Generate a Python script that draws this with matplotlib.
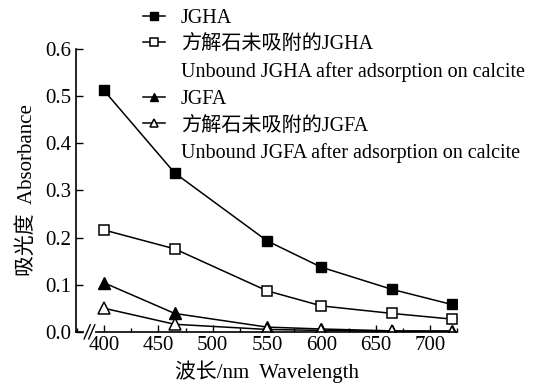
import matplotlib
matplotlib.use("Agg")
import matplotlib.pyplot as plt
from matplotlib.lines import Line2D
from matplotlib.ticker import MultipleLocator, FormatStrFormatter

# wavelengths (nm) and absorbance readings
wavelength = [400, 465, 550, 600, 665, 720]
jgha = [0.512, 0.337, 0.193, 0.137, 0.090, 0.058]
jgha_unbound = [0.216, 0.176, 0.087, 0.055, 0.039, 0.027]
jgfa = [0.104, 0.039, 0.010, 0.006, 0.002, 0.002]
jgfa_unbound = [0.050, 0.016, 0.005, 0.003, 0.001, 0.000]

labels = ["JGHA",
          "方解石未吸附的JGHA",
          "Unbound JGHA after adsorption on calcite",
          "JGFA",
          "方解石未吸附的JGFA",
          "Unbound JGFA after adsorption on calcite"]

fonts = ["Liberation Serif", "Noto Sans CJK SC"]
plt.rcParams["font.family"] = fonts

fig = plt.figure(figsize=(5.45, 3.89), dpi=100)
ax = fig.add_axes([0.139, 0.147, 0.700, 0.727])

lw = 1.1
ms = 7
l1, = ax.plot(wavelength, jgha, "k-", marker="s", ms=ms, lw=lw, mfc="k", mec="k")
l2, = ax.plot(wavelength, jgha_unbound, "k-", marker="s", ms=ms, lw=lw, mfc="white", mec="k", mew=1.1)
l3, = ax.plot(wavelength, jgfa, "k-", marker="^", ms=ms + 1, lw=lw, mfc="k", mec="k")
l4, = ax.plot(wavelength, jgfa_unbound, "k-", marker="^", ms=ms + 1, lw=lw, mfc="white", mec="k", mew=1.1)

ax.set_xlim(374, 725)
ax.set_ylim(0, 0.6)
ax.xaxis.set_major_locator(MultipleLocator(50))
ax.xaxis.set_minor_locator(MultipleLocator(25))
ax.yaxis.set_major_locator(MultipleLocator(0.1))
ax.yaxis.set_major_formatter(FormatStrFormatter("%.1f"))
ax.tick_params(direction="in", length=5, width=1, labelsize=15, pad=3)
ax.tick_params(which="minor", direction="in", length=3, width=1)
for s in ["top", "right"]:
    ax.spines[s].set_visible(False)
for s in ["left", "bottom"]:
    ax.spines[s].set_linewidth(1.2)

# axis break on the x axis
bx = 0.03
ax.plot([bx - 0.004, bx + 0.016], [0, 0], color="white", lw=3,
        transform=ax.transAxes, clip_on=False, zorder=5)
for dx in (0.0, 0.012):
    ax.plot([bx - 0.008 + dx, bx + 0.008 + dx], [-0.025, 0.025], color="k", lw=1,
            transform=ax.transAxes, clip_on=False, zorder=6)

ax.set_xlabel("波长/nm  Wavelength", fontsize=15, labelpad=4)
ax.set_ylabel("吸光度  Absorbance", fontsize=15, labelpad=6)

blank = Line2D([], [], linestyle="none")
fig.legend([l1, l2, blank, l3, l4, blank], labels, loc="upper left",
           bbox_to_anchor=(0.262, 0.978), frameon=False, fontsize=14.5,
           handlelength=1.1, handletextpad=0.8, labelspacing=0.38,
           borderaxespad=0, borderpad=0, markerscale=0.75)

fig.savefig("out.png", dpi=100)
